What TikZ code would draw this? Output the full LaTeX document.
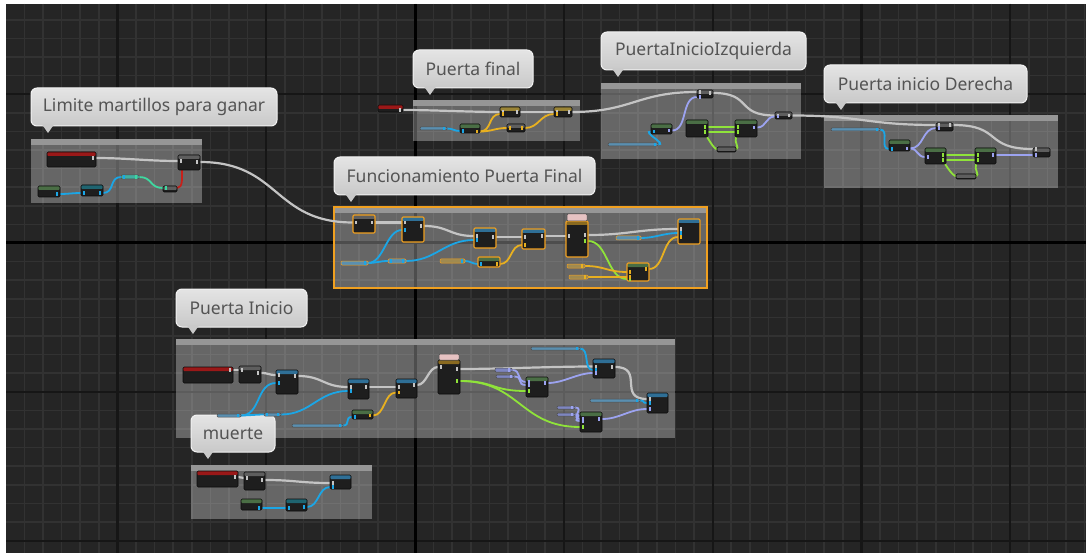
\documentclass[tikz,border=0pt]{standalone}
\usepackage{fontspec}
\setmainfont{Noto Sans}
\usetikzlibrary{calc}
\pgfdeclarelayer{back}
\pgfdeclarelayer{links}
\pgfdeclarelayer{pins}
\pgfsetlayers{back,links,main,pins}

\definecolor{bg}{HTML}{252525}
\definecolor{gridminor}{HTML}{323232}
\definecolor{gridmajor}{HTML}{161616}
\definecolor{cmthead}{HTML}{969696}
\definecolor{nodebody}{HTML}{1E1E1E}
\definecolor{nodeedge}{HTML}{0C0C0C}
\definecolor{hdrred}{HTML}{9A1818}
\definecolor{hdrgray}{HTML}{5E5E5E}
\definecolor{hdrgreen}{HTML}{4A6E45}
\definecolor{hdrblue}{HTML}{2F6F96}
\definecolor{hdrteal}{HTML}{1F6470}
\definecolor{hdrgold}{HTML}{9A8436}
\definecolor{hdrbrown}{HTML}{8A6A20}
\definecolor{pinklab}{HTML}{E6C2C2}
\definecolor{selorange}{HTML}{F0A020}
\definecolor{barblue}{HTML}{5A8FB0}
\definecolor{barlav}{HTML}{7E86C0}
\definecolor{baryel}{HTML}{A08A50}
\definecolor{barteal}{HTML}{40B0A0}
\definecolor{execc}{HTML}{C4C4C4}
\definecolor{cblue}{HTML}{1BA6E6}
\definecolor{cyellow}{HTML}{E8B020}
\definecolor{cgreen}{HTML}{8FE33A}
\definecolor{clav}{HTML}{9CA3F0}
\definecolor{cred}{HTML}{C8201A}
\definecolor{cteal}{HTML}{3FD8A0}
\definecolor{bubtop}{HTML}{E4E4E4}
\definecolor{bubbot}{HTML}{C9C9C9}
\definecolor{bubedge}{HTML}{F2F2F2}
\definecolor{bubtext}{HTML}{545454}

\tikzset{
  gminor/.style={draw=gridminor, line width=1.5pt},
  gmajor/.style={draw=gridmajor, line width=2.2pt},
  gorigin/.style={draw=black, line width=3pt},
  cmtbox/.style={fill=white, fill opacity=0.3},
  bpbody/.style={draw=nodeedge, fill=nodebody, line width=0.6pt, rounded corners=1.2pt,
    inner sep=0pt, outer sep=0pt},
  hdr/.style={path picture={\fill[#1] ([yshift=1pt]path picture bounding box.north west)
    rectangle ([yshift=-4pt]path picture bounding box.north east);}},
  sel/.style={draw=selorange, line width=1.1pt},
  barnode/.style={draw=black!70, line width=0.5pt, fill=#1, rounded corners=1pt,
    inner sep=0pt, outer sep=0pt},
  wire/.style={line width=1.8pt, line cap=round},
  exec/.style={wire, color=execc, line width=2.2pt},
  wblue/.style={wire, color=cblue},
  wyellow/.style={wire, color=cyellow},
  wgreen/.style={wire, color=cgreen},
  wlav/.style={wire, color=clav},
  wred/.style={wire, color=cred},
  wteal/.style={wire, color=cteal},
  bubble/.style={draw=bubedge, line width=1pt, top color=bubtop, bottom color=bubbot,
    rounded corners=6pt, inner sep=0pt, text=bubtext,
    font=\fontsize{17.5}{20}\selectfont},
}

% blueprint node: [opts]{name}{x1}{y1}{x2}{y2}{header colour}
\newcommand\bpn[7][]{\node[bpbody,hdr=#7,minimum width={(#5-#3)*1pt},
  minimum height={(#6-#4)*1pt},#1] (#2) at ({(#3+#5)/2},{(#4+#6)/2}) {};}
% thin variable node
\newcommand\bpbar[7][]{\node[barnode=#7,minimum width={(#5-#3)*1pt},
  minimum height={(#6-#4)*1pt},#1] (#2) at ({(#3+#5)/2},{(#4+#6)/2}) {};}
% comment frame with title strip
\newcommand\bpcmt[5][]{\begin{pgfonlayer}{back}
  \fill[cmtbox] (#2,#3) rectangle (#4,#5);
  \fill[cmthead] (#2,#3) rectangle (#4,{#3+6});
  \draw[#1] (#2,#3) rectangle (#4,#5);
  \end{pgfonlayer}}
% speech bubble: {name}{x1}{y1}{x2}{y2}{text}
\newcommand\bpbubble[6]{\node[bubble,minimum width={(#4-#2)*1pt},
  minimum height={(#5-#3)*1pt}] (#1) at ({(#2+#4)/2},{(#3+#5)/2}) {#6};
  \fill[bubbot] ({#2+11},{#5-1.5}) -- ({#2+17},{#5+7}) -- ({#2+23},{#5-1.5}) -- cycle;}
% spline between pins, with the pin marks drawn over the nodes
\newcommand\lnk[4][14]{%
  \begin{pgfonlayer}{links}\draw[#2] #3 .. controls +(#1,0) and +(-#1,0) .. #4;\end{pgfonlayer}
  \begin{pgfonlayer}{pins}
  \fill[#2] #3 ++(-4,-1.6) rectangle ++(2.4,3.2);
  \fill[#2] #4 ++(1.6,-1.6) rectangle ++(2.4,3.2);
  \end{pgfonlayer}}

\begin{document}
\begin{tikzpicture}[x=1pt,y=-1pt]
\useasboundingbox (0,0) rectangle (1086,553);

% canvas and grid
\begin{pgfonlayer}{back}
\fill[white] (0,0) rectangle (1086,553);
\fill[bg] (6,4) rectangle (1086,553);
\foreach \i in {-21,...,36} {\draw[gminor] ({415+18.6*\i},4) -- ({415+18.6*\i},553);}
\foreach \j in {-12,...,16} {\draw[gminor] (6,{243+18.6*\j}) -- (1086,{243+18.6*\j});}
\foreach \i in {-16,-8,8,16,24,32} {\draw[gmajor] ({415+18.6*\i},4) -- ({415+18.6*\i},553);}
\foreach \j in {-8,8,16} {\draw[gmajor] (6,{243+18.6*\j}) -- (1086,{243+18.6*\j});}
\draw[gorigin] (415,4) -- (415,553);
\draw[gorigin] (6,243) -- (1086,243);
\end{pgfonlayer}

% comment frames
\bpcmt[draw=none]{31}{139}{202}{203}
\bpcmt[draw=none]{413}{100}{580}{141}
\bpcmt[draw=none]{601}{83}{801}{159}
\bpcmt[draw=none]{824}{115}{1058}{188}
\bpcmt[draw=selorange,line width=1.2pt]{334}{207}{707}{288}
\bpcmt[draw=none]{176}{339}{675}{438}
\bpcmt[draw=none]{191}{465}{372}{519}

% Limite martillos para ganar
\bpn{La}{47}{152}{96}{167}{hdrred}
\bpn{Lb}{178}{155}{200}{170}{hdrgray}
\bpn{Lc}{38}{186}{60}{197}{hdrgreen}
\bpn{Ld}{81}{185}{103}{196}{hdrteal}
\bpbar{Le}{121}{175}{139}{179}{barteal}
\bpn{Lf}{163}{186}{177}{192}{hdrgray}

% Puerta final
\bpn{Fa}{378}{105}{403}{112}{hdrred}
\bpn{Fb}{500}{107}{520}{117}{hdrgold}
\bpn{Fc}{554}{107}{572}{117}{hdrgold}
\bpn{Fd}{507}{124}{525}{132}{hdrgray}
\bpn{Fe}{460}{124}{480}{133}{hdrgreen}
\bpbar{Ff}{420}{127}{447}{130}{barblue}

% PuertaInicioIzquierda
\bpn{Ia}{697}{90}{713}{98}{hdrgray}
\bpn{Ib}{775}{112}{792}{119}{hdrgray}
\bpn{Ic}{651}{124}{672}{134}{hdrgreen}
\bpn{Id}{686}{120}{708}{137}{hdrgreen}
\bpn{Ie}{735}{120}{757}{137}{hdrgreen}
\bpn{If}{717}{147}{736}{152}{hdrgray}
\bpbar{Ig}{608}{143}{658}{146}{barblue}

% Puerta inicio Derecha
\bpn{Ra}{936}{123}{953}{131}{hdrgray}
\bpn{Rb}{1033}{148}{1050}{157}{hdrgray}
\bpn{Rc}{889}{140}{910}{151}{hdrgreen}
\bpn{Rd}{925}{148}{946}{164}{hdrgreen}
\bpn{Re}{975}{148}{996}{164}{hdrgreen}
\bpn{Rf}{956}{174}{976}{179}{hdrgray}
\bpbar{Rg}{831}{128}{880}{131}{barblue}

% Funcionamiento Puerta Final
\bpn[sel]{Ua}{353}{215}{375}{233}{hdrgray}
\bpn[sel]{Ub}{402}{217}{424}{242}{hdrblue}
\bpn[sel]{Uc}{474}{228}{496}{248}{hdrblue}
\bpn[sel]{Ud}{522}{229}{545}{249}{hdrblue}
\bpn[sel]{Ue}{566}{221}{588}{257}{hdrbrown}
\bpbar{Up}{567}{214}{587}{221}{pinklab}
\bpn[sel]{Uf}{678}{219}{700}{244}{hdrblue}
\bpn[sel]{Ug}{478}{257}{500}{267}{hdrgreen}
\bpn[sel]{Uh}{627}{263}{649}{281}{hdrgreen}
\bpbar[draw=selorange]{Ui}{341}{261}{368}{265}{barblue}
\bpbar[draw=selorange]{Uj}{388}{259}{406}{263}{barblue}
\bpbar[draw=selorange]{Uk}{440}{259}{465}{263}{baryel}
\bpbar[draw=selorange]{Ul}{616}{236}{641}{240}{barblue}
\bpbar[draw=selorange]{Um}{567}{264}{585}{268}{baryel}
\bpbar[draw=selorange]{Un}{569}{275}{588}{279}{baryel}

% Puerta Inicio
\bpn{Pa}{183}{367}{233}{383}{hdrred}
\bpn{Pb}{239}{366}{261}{383}{hdrgray}
\bpn{Pc}{276}{370}{298}{394}{hdrblue}
\bpn{Pd}{348}{379}{369}{399}{hdrblue}
\bpn{Pe}{396}{379}{417}{398}{hdrblue}
\bpn{Pf}{352}{410}{373}{419}{hdrgreen}
\bpn{Pg}{438}{360}{460}{394}{hdrbrown}
\bpbar{Pp}{439}{354}{459}{360}{pinklab}
\bpn{Ph}{526}{377}{548}{397}{hdrgreen}
\bpn{Pi}{593}{359}{615}{378}{hdrblue}
\bpn{Pj}{580}{412}{602}{432}{hdrgreen}
\bpn{Pk}{647}{393}{668}{413}{hdrblue}
\bpbar{Pl}{217}{414}{241}{417}{barblue}
\bpbar{Pm}{264}{413}{281}{416}{barblue}
\bpbar{Pn}{292}{424}{343}{427}{barblue}
\bpbar{Po}{531}{347}{580}{350}{barblue}
\bpbar{Pq}{495}{368}{512}{372}{barlav}
\bpbar{Pr}{496}{375}{514}{378}{barlav}
\bpbar{Ps}{557}{406}{575}{409}{barlav}
\bpbar{Pt}{557}{413}{575}{416}{barlav}
\bpbar{Pu}{590}{399}{640}{402}{barblue}

% muerte
\bpn{Ma}{197}{471}{238}{487}{hdrred}
\bpn{Mb}{244}{472}{265}{490}{hdrgray}
\bpn{Mc}{330}{475}{351}{489}{hdrblue}
\bpn{Md}{241}{499}{262}{510}{hdrgreen}
\bpn{Me}{286}{499}{307}{511}{hdrteal}

% connections
% Limite martillos para ganar
\lnk[30]{exec}{([yshift=1.5pt]La.east)}{([yshift=1.5pt]Lb.west)}
\lnk[80]{exec}{([yshift=0.5pt]Lb.east)}{([yshift=1.5pt]Ua.west)}
\lnk[8]{wblue}{([yshift=-2.5pt]Lc.east)}{([yshift=-2.5pt]Ld.west)}
\lnk[12]{wblue}{([yshift=-2.5pt]Ld.east)}{(Le.west)}
\lnk[14]{wteal}{(Le.east)}{([yshift=1pt]Lf.west)}
\begin{pgfonlayer}{links}
\draw[wred] ([yshift=1pt]Lf.east) .. controls +(6,0) and +(0,8) .. ([xshift=4pt]Lb.south west);
\end{pgfonlayer}
% Puerta final
\lnk[30]{exec}{([yshift=-1.5pt]Fa.east)}{(Fb.west)}
\lnk[10]{exec}{(Fb.east)}{(Fc.west)}
\lnk[60]{exec}{(Fc.east)}{([yshift=2pt]Ia.west)}
\lnk[6]{wblue}{(Ff.east)}{([yshift=-2.5pt]Fe.west)}
\lnk[12]{wyellow}{([yshift=-3pt]Fe.east)}{([yshift=-2pt]Fb.west)}
\lnk[12]{wyellow}{([yshift=-3pt]Fe.east)}{(Fd.west)}
\lnk[14]{wyellow}{(Fd.east)}{([yshift=-2pt]Fc.west)}
% PuertaInicioIzquierda
\lnk[40]{exec}{([yshift=1pt]Ia.east)}{(Ib.west)}
\lnk[70]{exec}{(Ib.east)}{([yshift=2pt]Ra.west)}
\lnk[10]{wblue}{(Ig.east)}{([yshift=-2.5pt]Ic.west)}
\lnk[16]{wlav}{([yshift=-1.5pt]Ic.east)}{([yshift=-3pt]Ia.west)}
\lnk[10]{wlav}{([yshift=1pt]Ie.east)}{([yshift=-1pt]Ib.west)}
\lnk[4]{wgreen}{([yshift=1.5pt]Id.east)}{([yshift=1.5pt]Ie.west)}
\lnk[4]{wgreen}{([yshift=-3.5pt]Id.east)}{([yshift=-3.5pt]Ie.west)}
\begin{pgfonlayer}{links}
\draw[wgreen] ([xshift=-1pt]Id.south east) .. controls +(4,6) and +(-4,-2) .. (If.west);
\draw[wgreen] ([xshift=1pt]Ie.south west) .. controls +(-2,6) and +(4,-2) .. (If.east);
\end{pgfonlayer}
% Puerta inicio Derecha
\lnk[50]{exec}{([yshift=2pt]Ra.east)}{([yshift=3.5pt]Rb.west)}
\lnk[10]{wblue}{(Rg.east)}{([yshift=-3.5pt]Rc.west)}
\lnk[14]{wlav}{([yshift=-3pt]Rc.east)}{([yshift=-1pt]Ra.west)}
\lnk[8]{wlav}{([yshift=-3pt]Rc.east)}{([yshift=-1pt]Rd.west)}
\lnk[4]{wgreen}{([yshift=1pt]Rd.east)}{([yshift=1pt]Re.west)}
\lnk[4]{wgreen}{([yshift=-4pt]Rd.east)}{([yshift=-4pt]Re.west)}
\lnk[10]{wlav}{([yshift=1pt]Re.east)}{([yshift=-2.5pt]Rb.west)}
\begin{pgfonlayer}{links}
\draw[wgreen] ([xshift=-1pt]Rd.south east) .. controls +(4,6) and +(-4,-2) .. (Rf.west);
\draw[wgreen] ([xshift=1pt]Re.south west) .. controls +(-2,6) and +(4,-2) .. (Rf.east);
\end{pgfonlayer}
% Funcionamiento Puerta Final
\lnk[8]{exec}{([yshift=1.5pt]Ua.east)}{([yshift=7pt]Ub.west)}
\lnk[25]{exec}{([yshift=3.5pt]Ub.east)}{([yshift=2pt]Uc.west)}
\lnk[10]{exec}{([yshift=1pt]Uc.east)}{([yshift=2pt]Ud.west)}
\lnk[10]{exec}{([yshift=3pt]Ud.east)}{([yshift=3pt]Ue.west)}
\lnk[40]{exec}{([yshift=4pt]Ue.east)}{([yshift=2.5pt]Uf.west)}
\lnk[16]{wblue}{(Ui.east)}{([yshift=-0.5pt]Ub.west)}
\lnk[8]{wblue}{(Ui.east)}{(Uj.west)}
\lnk[30]{wblue}{(Uj.east)}{([yshift=-2pt]Uc.west)}
\lnk[6]{wblue}{(Uk.east)}{([yshift=-2pt]Ug.west)}
\lnk[12]{wyellow}{([yshift=-2pt]Ug.east)}{([yshift=-6pt]Ud.west)}
\lnk[14]{wblue}{(Ul.east)}{([yshift=-1.5pt]Uf.west)}
\lnk[20]{wgreen}{([yshift=-2pt]Ue.east)}{([yshift=-7pt]Uh.west)}
\lnk[20]{wyellow}{(Um.east)}{(Uh.west)}
\lnk[20]{wyellow}{(Un.east)}{([yshift=-5pt]Uh.west)}
\lnk[16]{wyellow}{([yshift=3pt]Uh.east)}{([yshift=-5.5pt]Uf.west)}
% Puerta Inicio
\lnk[3]{exec}{([yshift=5pt]Pa.east)}{([yshift=4.5pt]Pb.west)}
\lnk[8]{exec}{([yshift=1.5pt]Pb.east)}{([yshift=7pt]Pc.west)}
\lnk[25]{exec}{([yshift=6pt]Pc.east)}{([yshift=2pt]Pd.west)}
\lnk[10]{exec}{([yshift=2pt]Pd.east)}{([yshift=1.5pt]Pe.west)}
\lnk[10]{exec}{([yshift=3.5pt]Pe.east)}{([yshift=10pt]Pg.west)}
\lnk[40]{exec}{([yshift=8pt]Pg.east)}{([yshift=2pt]Pi.west)}
\lnk[30]{exec}{([yshift=1.5pt]Pi.east)}{([yshift=4pt]Pk.west)}
\lnk[20]{wblue}{(Pl.east)}{([yshift=-1pt]Pc.west)}
\lnk[6]{wblue}{(Pl.east)}{(Pm.west)}
\lnk[30]{wblue}{(Pm.east)}{([yshift=-2pt]Pd.west)}
\lnk[8]{wblue}{(Pn.east)}{([yshift=-2.5pt]Pf.west)}
\lnk[12]{wyellow}{([yshift=-1pt]Pf.east)}{([yshift=-4pt]Pe.west)}
\lnk[10]{wblue}{(Po.east)}{([yshift=-1.5pt]Pi.west)}
\lnk[6]{wblue}{(Pu.east)}{(Pk.west)}
\lnk[10]{wlav}{(Pq.east)}{([yshift=5pt]Ph.west)}
\lnk[10]{wlav}{(Pr.east)}{([yshift=2pt]Ph.west)}
\lnk[16]{wlav}{([yshift=4pt]Ph.east)}{([yshift=-4.5pt]Pi.west)}
\lnk[10]{wlav}{(Ps.east)}{([yshift=3pt]Pj.west)}
\lnk[10]{wlav}{(Pt.east)}{([yshift=1pt]Pj.west)}
\lnk[18]{wlav}{([yshift=3pt]Pj.east)}{([yshift=-6pt]Pk.west)}
\lnk[35]{wgreen}{([yshift=-4pt]Pg.east)}{([yshift=-4pt]Ph.west)}
\lnk[60]{wgreen}{([yshift=-4pt]Pg.east)}{([yshift=-5pt]Pj.west)}
% muerte
\lnk[3]{exec}{([yshift=2pt]Ma.east)}{([yshift=3pt]Mb.west)}
\lnk[30]{exec}{([yshift=1pt]Mb.east)}{([yshift=-1pt]Mc.west)}
\lnk[8]{wblue}{([yshift=-3.5pt]Md.east)}{([yshift=-3pt]Me.west)}
\lnk[12]{wblue}{([yshift=-2pt]Me.east)}{([yshift=-5pt]Mc.west)}

% comment titles
\bpbubble{t1}{31}{88}{277}{126}{Limite martillos para ganar}
\bpbubble{t2}{413}{50}{533}{88}{Puerta final}
\bpbubble{t3}{601}{32}{806}{70}{PuertaInicioIzquierda}
\bpbubble{t4}{824}{65}{1027}{103}{Puerta inicio Derecha}
\bpbubble{t5}{334}{157}{595}{195}{Funcionamiento Puerta Final}
\bpbubble{t6}{176}{289}{307}{327}{Puerta Inicio}
% this title sits beneath the nodes of the frame above it
\begin{pgfonlayer}{back}
\bpbubble{t7}{191}{415}{275}{452}{muerte}
\end{pgfonlayer}
\end{tikzpicture}
\end{document}
